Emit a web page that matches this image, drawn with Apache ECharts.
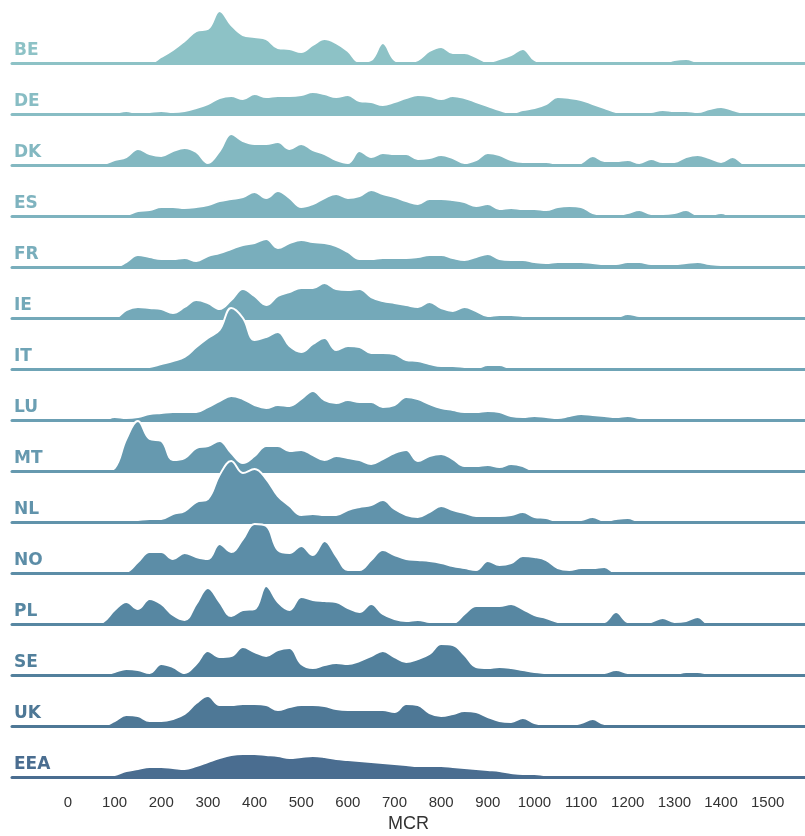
<!DOCTYPE html>
<html>
<head>
<meta charset="utf-8">
<script src="https://cdn.jsdelivr.net/npm/echarts@6/dist/echarts.min.js"></script>
<style>
  html, body { margin: 0; padding: 0; background: #fff; }
  #chart { width: 805px; height: 836px; }
</style>
</head>
<body>
<div id="chart"></div>
<script>
// MCR grid (x values of the density samples)
var mcr = [0, 25, 50, 75, 100, 125, 150, 175, 200, 225, 250, 275, 300, 325, 350, 375, 400, 425, 450, 475,
    500, 525, 550, 575, 600, 625, 650, 675, 700, 725, 750, 775, 800, 825, 850, 875, 900, 925, 950, 975,
    1000, 1025, 1050, 1075, 1100, 1125, 1150, 1175, 1200, 1225, 1250, 1275, 1300, 1325, 1350, 1375, 1400, 1425, 1450, 1475,
    1500, 1525, 1550];

var countries = ['BE', 'DE', 'DK', 'ES', 'FR', 'IE', 'IT', 'LU', 'MT', 'NL', 'NO', 'PL', 'SE', 'UK', 'EEA'];

var tickValues = [0, 100, 200, 300, 400, 500, 600, 700, 800, 900, 1000, 1100, 1200, 1300, 1400, 1500];

// density heights, one value per mcr point
var be = [0, 0, 0, 0, 0, 0, 0, 0, 6, 13, 22, 32, 34, 52, 38, 28, 26, 24, 15, 14,
    11, 18, 24, 20, 12, 1, 3, 20, 3, 0, 3, 12, 16, 10, 10, 6, 1, 4, 8, 14,
    3, 0, 2, 0, 0, 0, 0, 0, 0, 0, 0, 0, 3, 4, 1, 0, 0, 0, 2, 0, 0, 0, 0];
var de = [0, 0, 0, 0, 1, 3, 1, 2, 3, 2, 3, 6, 10, 16, 18, 15, 20, 17, 18, 18,
    19, 22, 20, 17, 19, 13, 12, 9, 12, 16, 19, 18, 15, 18, 16, 12, 8, 4, 1, 4,
    6, 10, 17, 16, 14, 10, 6, 2, 1, 1, 2, 4, 3, 3, 2, 5, 7, 4, 1, 0, 0, 0, 0];
var dk = [0, 1, 1, 1, 5, 8, 16, 11, 9, 14, 17, 13, 2, 14, 31, 24, 21, 21, 23, 16,
    21, 15, 11, 5, 2, 14, 8, 12, 11, 11, 6, 7, 10, 7, 2, 5, 12, 10, 5, 3,
    3, 3, 1, 0, 2, 9, 4, 4, 5, 2, 6, 3, 3, 8, 10, 7, 3, 8, 1, 0, 0, 0, 0];
var es = [0, 0, 0, 0, 0, 1, 5, 6, 9, 9, 8, 9, 11, 15, 17, 19, 24, 18, 25, 18,
    9, 12, 18, 22, 18, 20, 26, 22, 19, 15, 12, 17, 17, 16, 14, 10, 12, 7, 8, 7,
    7, 6, 9, 10, 9, 3, 1, 1, 3, 6, 2, 2, 3, 6, 1, 1, 3, 0, 0, 0, 0, 0, 0];
var fr = [0, 0, 0, 0, 0, 5, 12, 10, 8, 8, 9, 6, 11, 14, 18, 22, 24, 28, 19, 24,
    27, 25, 24, 21, 15, 8, 8, 9, 9, 9, 10, 12, 12, 9, 7, 10, 13, 8, 7, 7,
    5, 4, 5, 5, 5, 4, 3, 3, 5, 5, 3, 3, 3, 4, 5, 3, 2, 2, 1, 0, 0, 0, 0];
var ie = [0, 0, 0, 0, 0, 8, 11, 10, 9, 5, 11, 18, 15, 9, 18, 29, 22, 13, 22, 26,
    30, 30, 35, 29, 28, 29, 21, 17, 15, 13, 11, 16, 10, 7, 11, 7, 2, 3, 3, 2,
    1, 1, 1, 1, 1, 1, 1, 1, 4, 2, 1, 1, 1, 1, 1, 1, 1, 1, 1, 1, 0, 0, 0];
var it = [0, 0, 0, 0, 0, 1, 1, 2, 5, 8, 12, 22, 31, 39, 61, 51, 29, 32, 37, 23,
    17, 25, 31, 19, 23, 22, 16, 16, 15, 9, 8, 5, 3, 3, 2, 1, 4, 4, 1, 1,
    1, 1, 1, 1, 1, 2, 1, 2, 1, 0, 0, 0, 0, 0, 0, 0, 0, 0, 0, 0, 0, 0, 0];
var lu = [0, 0, 0, 0, 3, 2, 3, 6, 7, 8, 8, 8, 13, 19, 24, 21, 15, 12, 15, 14,
    21, 29, 20, 17, 20, 18, 18, 13, 15, 23, 21, 16, 12, 10, 8, 8, 9, 8, 4, 3,
    4, 3, 2, 4, 6, 5, 4, 3, 4, 2, 1, 1, 1, 1, 1, 1, 1, 1, 1, 1, 0, 0, 0];
var mt = [0, 0, 0, 0, 3, 32, 50, 32, 30, 11, 13, 23, 25, 30, 18, 8, 15, 25, 25, 20,
    21, 16, 11, 15, 13, 11, 7, 12, 18, 21, 10, 15, 17, 12, 5, 5, 6, 4, 7, 5,
    0, 0, 0, 0, 0, 0, 0, 0, 0, 0, 0, 0, 0, 0, 0, 0, 0, 0, 0, 0, 0, 0, 0];
var nl = [0, 0, 0, 1, 1, 1, 2, 3, 3, 8, 11, 20, 23, 47, 61, 49, 53, 43, 26, 16,
    7, 8, 7, 7, 12, 15, 17, 22, 13, 7, 5, 10, 16, 12, 9, 6, 6, 6, 7, 10,
    5, 4, 1, 1, 2, 5, 1, 3, 4, 1, 1, 1, 1, 1, 1, 1, 1, 1, 1, 1, 0, 0, 0];
var no = [0, 0, 0, 0, 0, 1, 11, 21, 21, 14, 20, 16, 14, 29, 21, 34, 49, 47, 23, 20,
    27, 18, 32, 17, 3, 3, 13, 23, 18, 14, 13, 12, 10, 7, 5, 3, 12, 8, 10, 17,
    16, 13, 5, 3, 5, 5, 6, 0, 0, 0, 0, 0, 0, 0, 0, 0, 0, 0, 0, 0, 0, 0, 0];
var pl = [0, 0, 0, 2, 14, 22, 15, 25, 20, 9, 4, 20, 36, 22, 8, 14, 15, 38, 22, 14,
    27, 24, 23, 22, 16, 12, 20, 10, 5, 3, 4, 2, 1, 1, 10, 18, 18, 18, 20, 15,
    9, 6, 2, 1, 1, 1, 2, 12, 2, 1, 2, 6, 2, 3, 7, 0, 0, 0, 0, 0, 0, 0, 0];
var se = [0, 0, 0, 0, 3, 6, 5, 2, 11, 8, 2, 11, 24, 18, 19, 28, 23, 19, 25, 27,
    11, 7, 10, 12, 11, 14, 19, 24, 18, 13, 16, 21, 31, 30, 20, 8, 7, 8, 7, 5,
    3, 2, 1, 2, 1, 1, 2, 5, 2, 1, 1, 1, 1, 3, 3, 1, 0, 0, 0, 0, 0, 0, 0];
var uk = [0, 0, 0, 0, 5, 11, 10, 5, 5, 7, 12, 23, 30, 21, 21, 22, 22, 21, 16, 19,
    21, 21, 20, 17, 16, 16, 16, 16, 14, 22, 21, 13, 10, 12, 15, 14, 9, 5, 4, 8,
    3, 1, 1, 1, 3, 7, 2, 2, 2, 1, 1, 1, 1, 1, 1, 1, 1, 1, 1, 0, 0, 0, 0];
var eea = [0, 0, 0, 0, 2, 6, 8, 10, 10, 9, 8, 11, 15, 19, 22, 23, 23, 22, 21, 19,
    20, 21, 20, 18, 17, 16, 15, 14, 13, 12, 11, 11, 11, 10, 9, 8, 7, 6, 4, 3,
    3, 2, 2, 2, 2, 2, 1, 1, 1, 1, 1, 1, 1, 1, 1, 1, 1, 1, 1, 0, 0, 0, 0];

var rows = [be, de, dk, es, fr, ie, it, lu, mt, nl, no, pl, se, uk, eea];

var palette = ['#8dc2c6', '#88bdc4', '#83b8c1', '#7eb3bf', '#79aebc', '#74a9b9', '#6fa4b6', '#6b9fb3',
    '#6699af', '#6193ab', '#5c8da7', '#5787a2', '#52809c', '#4e7896', '#4a6d90'];

var firstBase = 63;   // pixel y of the BE baseline
var rowStep = 51;     // distance between baselines
var rowHeight = 63;   // drawing room above each baseline (1 unit = 1px)
var tickFont = '"Liberation Sans", Arial, sans-serif';
var labelFont = '"DejaVu Sans", sans-serif';

var grids = [], xAxes = [], yAxes = [], series = [], titles = [];

rows.forEach(function (vals, i) {
    var base = firstBase + rowStep * i;
    var last = i === rows.length - 1;
    grids.push({ left: 12, right: 0, top: base - rowHeight, height: rowHeight });
    xAxes.push({
        gridIndex: i,
        type: 'value',
        min: -120,
        max: 1580,
        z: 2 * i + 3,
        axisLine: { show: true, lineStyle: { color: palette[i], width: 3 } },
        axisTick: { show: false },
        splitLine: { show: false },
        axisLabel: {
            show: last,
            customValues: tickValues,
            formatter: function (v) { return String(v); },
            margin: 18,
            fontSize: 15,
            color: '#333',
            fontFamily: tickFont
        },
        name: last ? 'MCR' : '',
        nameLocation: 'middle',
        nameGap: 38,
        nameTextStyle: { fontSize: 18, color: '#333', fontFamily: tickFont }
    });
    yAxes.push({
        gridIndex: i,
        type: 'value',
        min: 0,
        max: rowHeight,
        show: false
    });
    series.push({
        name: countries[i],
        type: 'line',
        xAxisIndex: i,
        yAxisIndex: i,
        z: 2 * i + 2,
        smooth: 0.4,
        symbol: 'none',
        animation: false,
        silent: true,
        lineStyle: { color: '#ffffff', width: 2 },
        areaStyle: { color: palette[i], opacity: 1 },
        data: mcr.map(function (x, k) { return [x, vals[k]]; })
    });
    titles.push({
        text: countries[i],
        left: 14,
        top: base - 21,
        padding: 0,
        textStyle: { fontSize: 17, fontWeight: 'bold', color: palette[i], fontFamily: labelFont }
    });
});

var myChart = echarts.init(document.getElementById('chart'));
myChart.setOption({
    backgroundColor: '#ffffff',
    animation: false,
    title: titles,
    grid: grids,
    xAxis: xAxes,
    yAxis: yAxes,
    series: series
});
</script>
</body>
</html>
